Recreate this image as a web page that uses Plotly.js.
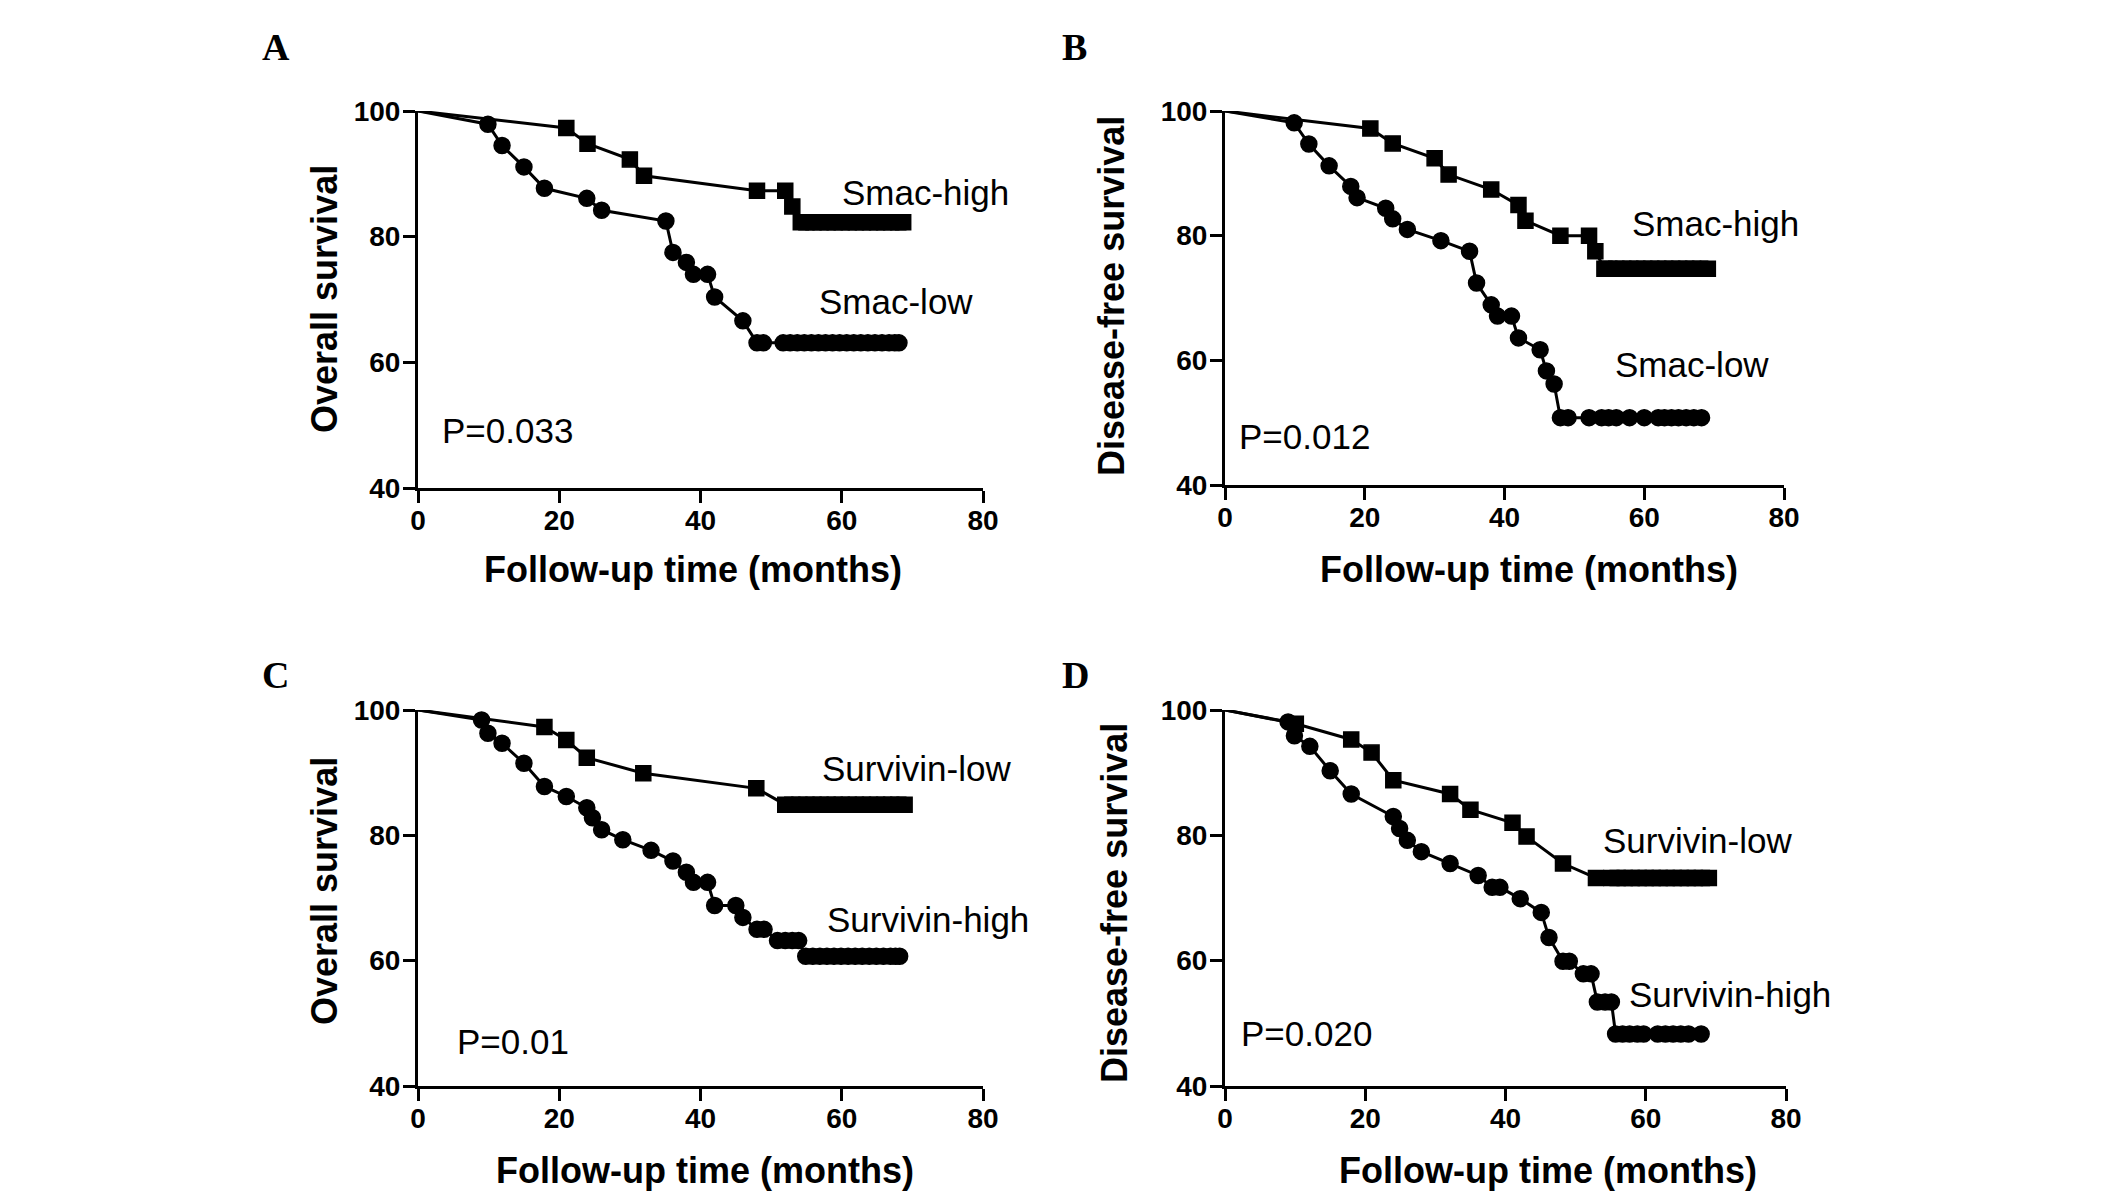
<!DOCTYPE html>
<html>
<head>
<meta charset="utf-8">
<script src="https://cdn.plot.ly/plotly-3.0.1.min.js"></script>
<style>html,body{margin:0;padding:0;background:#fff;}#chart{width:2126px;height:1196px;}</style>
</head>
<body>
<div id="chart"></div>
<script>
// ---- Data ----
const xTicks = [0, 20, 40, 60, 80];
const yTicks = [40, 60, 80, 100];

// Panel A: Overall survival by Smac
const A_high_t = [0, 21, 24, 30, 32, 48, 52, 53, 54.2, 55, 56, 57, 58, 59, 60, 61, 62, 63, 64, 65, 66, 67, 68, 68.7];
const A_high_s = [100, 97.3, 94.8, 92.3, 89.7, 87.3, 87.3, 84.8, 82.3, 82.3, 82.3, 82.3, 82.3, 82.3, 82.3, 82.3, 82.3, 82.3, 82.3, 82.3, 82.3, 82.3, 82.3, 82.3];
const A_low_t = [0, 9.9, 11.9, 15, 17.9, 23.9, 26, 35.1, 36.1, 38, 39, 41, 42, 46, 48, 48.9, 51.7, 52.7, 53.7, 54.7, 55.7, 56.7, 57.7, 58.7, 59.7, 60.7, 61.7, 62.7, 63.7, 64.7, 65.7, 66.7, 67.5, 68.1];
const A_low_s = [100, 97.9, 94.5, 91.1, 87.7, 86.1, 84.2, 82.5, 77.5, 75.9, 74.0, 74.0, 70.4, 66.6, 63.1, 63.1, 63.1, 63.1, 63.1, 63.1, 63.1, 63.1, 63.1, 63.1, 63.1, 63.1, 63.1, 63.1, 63.1, 63.1, 63.1, 63.1, 63.1, 63.1];

// Panel B: Disease-free survival by Smac
const B_high_t = [0, 20.8, 24, 30, 32, 38.1, 42, 43, 48, 52.1, 53, 54.3, 55, 56, 57, 58, 59, 60, 61, 62, 63, 64, 65, 66, 67, 68, 69.1];
const B_high_s = [100, 97.2, 94.8, 92.4, 89.8, 87.4, 84.9, 82.4, 80.0, 80.0, 77.5, 74.7, 74.7, 74.7, 74.7, 74.7, 74.7, 74.7, 74.7, 74.7, 74.7, 74.7, 74.7, 74.7, 74.7, 74.7, 74.7];
const B_low_t = [0, 9.9, 12, 14.9, 18, 18.9, 23, 24, 26.1, 30.9, 35, 36, 38.1, 39, 41, 42, 45.1, 46, 47.1, 48, 49.1, 52.1, 53.9, 54.9, 56, 57.9, 60, 62, 62.9, 63.9, 64.9, 66, 67.1, 68.2];
const B_low_s = [100, 98.1, 94.7, 91.2, 87.9, 86.1, 84.4, 82.7, 81.0, 79.2, 77.5, 72.4, 68.9, 67.1, 67.1, 63.6, 61.7, 58.3, 56.2, 50.8, 50.8, 50.8, 50.8, 50.8, 50.8, 50.8, 50.8, 50.8, 50.8, 50.8, 50.8, 50.8, 50.8, 50.8];

// Panel C: Overall survival by Survivin
const C_low_t = [0, 17.9, 21, 23.9, 31.9, 47.9, 52, 53, 54, 55, 56, 57, 58, 59, 60, 61, 62, 63, 64, 65, 66, 67, 68, 68.9];
const C_low_s = [100, 97.3, 95.2, 92.4, 89.9, 87.5, 84.9, 84.9, 84.9, 84.9, 84.9, 84.9, 84.9, 84.9, 84.9, 84.9, 84.9, 84.9, 84.9, 84.9, 84.9, 84.9, 84.9, 84.9];
const C_high_t = [0, 9, 9.9, 11.9, 15, 17.9, 21, 23.9, 24.7, 26, 29, 33, 36.1, 38, 39, 41, 42, 45, 46, 48, 49, 50.9, 52, 53, 53.9, 54.9, 55.9, 56.9, 57.9, 58.9, 59.9, 60.9, 61.9, 62.9, 63.9, 64.9, 65.9, 66.9, 67.6, 68.2];
const C_high_s = [100, 98.4, 96.3, 94.7, 91.5, 87.8, 86.2, 84.4, 82.8, 80.9, 79.3, 77.6, 75.9, 74.1, 72.5, 72.5, 68.8, 68.8, 66.9, 65.0, 65.0, 63.2, 63.2, 63.2, 63.2, 60.7, 60.7, 60.7, 60.7, 60.7, 60.7, 60.7, 60.7, 60.7, 60.7, 60.7, 60.7, 60.7, 60.7, 60.7];

// Panel D: Disease-free survival by Survivin
const D_low_t = [0, 10.1, 18, 20.9, 24, 32.1, 35, 41, 43, 48.2, 52.9, 55.1, 56, 57, 58, 59, 60, 61, 62, 63, 64, 65, 66, 67, 68, 69];
const D_low_s = [100, 97.8, 95.3, 93.2, 88.8, 86.6, 84.1, 82.0, 79.8, 75.5, 73.2, 73.2, 73.2, 73.2, 73.2, 73.2, 73.2, 73.2, 73.2, 73.2, 73.2, 73.2, 73.2, 73.2, 73.2, 73.2];
const D_high_t = [0, 9, 9.9, 12.1, 15, 18, 24, 24.9, 26, 28, 32.1, 36.1, 38.1, 39.2, 42.1, 45.1, 46.2, 48.2, 49.1, 51.1, 52.2, 53.1, 54.2, 55.1, 55.7, 56.7, 57.7, 58.8, 59.7, 61.7, 62.8, 63.9, 65, 66.1, 67.9];
const D_high_s = [100, 98.1, 95.9, 94.2, 90.3, 86.6, 83.0, 81.1, 79.2, 77.4, 75.5, 73.6, 71.7, 71.7, 69.9, 67.7, 63.7, 59.9, 59.9, 57.9, 57.9, 53.4, 53.4, 53.4, 48.3, 48.3, 48.3, 48.3, 48.3, 48.3, 48.3, 48.3, 48.3, 48.3, 48.3];

// ---- Build ----
const W = 2126, H = 1196;
const px = v => v / W;
const py = v => 1 - v / H;

function series(t, s, sym, ax) {
  return {
    x: t, y: s, type: 'scatter', mode: 'lines+markers',
    xaxis: 'x' + ax, yaxis: 'y' + ax,
    line: {color: '#000', width: 3},
    marker: {symbol: sym, color: '#000', opacity: 1,
      size: t.map((_, i) => i === 0 ? 0 : (sym === 'square' ? 15 : 16)),
      line: {color: '#000', width: t.map((_, i) => i === 0 ? 0 : 1.5)}},
    showlegend: false, hoverinfo: 'x+y', cliponaxis: false
  };
}

const traces = [
  series(A_high_t, A_high_s, 'square', ''),
  series(A_low_t, A_low_s, 'circle', ''),
  series(B_high_t, B_high_s, 'square', '2'),
  series(B_low_t, B_low_s, 'circle', '2'),
  series(C_low_t, C_low_s, 'square', '3'),
  series(C_high_t, C_high_s, 'circle', '3'),
  series(D_low_t, D_low_s, 'square', '4'),
  series(D_high_t, D_high_s, 'circle', '4')
];

const tickFont = {family: 'Liberation Sans, Arial, sans-serif', size: 28, color: '#000', weight: 'bold'};
function xax(d, anchor) {
  return {domain: d, anchor: anchor, range: [0, 80], tickvals: xTicks, ticktext: xTicks.map(String),
    ticks: 'outside', ticklen: 12, tickwidth: 3, tickcolor: '#000', showline: true, linewidth: 3,
    linecolor: '#000', showgrid: false, zeroline: false, tickfont: tickFont, fixedrange: true,
    ticklabelstandoff: -7};
}
function yax(d, anchor) {
  return {domain: d, anchor: anchor, range: [40, 100], tickvals: yTicks, ticktext: yTicks.map(String),
    ticks: 'outside', ticklen: 12, tickwidth: 3, tickcolor: '#000', showline: true, linewidth: 3,
    linecolor: '#000', showgrid: false, zeroline: false, tickfont: tickFont, fixedrange: true,
    ticklabelstandoff: -3};
}

const labelFont = {family: 'Liberation Sans, Arial, sans-serif', size: 35, color: '#000'};
const titleFont = {family: 'Liberation Sans, Arial, sans-serif', size: 36, color: '#000', weight: 'bold'};
const letterFont = {family: 'Liberation Serif, Times New Roman, serif', size: 38, color: '#000', weight: 'bold'};

function txt(text, x, y, font, xanchor, angle) {
  return {text: text, xref: 'paper', yref: 'paper', x: px(x), y: py(y), xanchor: xanchor || 'left',
    yanchor: 'middle', showarrow: false, font: font, textangle: angle || 0};
}

const annotations = [
  txt('A', 260, 47, letterFont), txt('B', 1060, 47, letterFont),
  txt('C', 260, 675, letterFont), txt('D', 1060, 675, letterFont),
  txt('Smac-high', 840, 192, labelFont), txt('Smac-low', 817, 301, labelFont), txt('P=0.033', 440, 431, labelFont),
  txt('Smac-high', 1630, 224, labelFont), txt('Smac-low', 1613, 364, labelFont), txt('P=0.012', 1237, 436, labelFont),
  txt('Survivin-low', 820, 768, labelFont), txt('Survivin-high', 825, 919, labelFont), txt('P=0.01', 455, 1041, labelFont),
  txt('Survivin-low', 1601, 840, labelFont), txt('Survivin-high', 1627, 995, labelFont), txt('P=0.020', 1239, 1033, labelFont),
  txt('Follow-up time (months)', 693, 569, titleFont, 'center'),
  txt('Follow-up time (months)', 1529, 569, titleFont, 'center'),
  txt('Follow-up time (months)', 705, 1170, titleFont, 'center'),
  txt('Follow-up time (months)', 1548, 1170, titleFont, 'center'),
  txt('Overall survival', 324, 299, titleFont, 'center', -90),
  txt('Disease-free survival', 1111, 296, titleFont, 'center', -90),
  txt('Overall survival', 324, 891, titleFont, 'center', -90),
  txt('Disease-free survival', 1114, 903, titleFont, 'center', -90)
];

const layout = {
  width: W, height: H, margin: {l: 0, r: 0, t: 0, b: 0},
  paper_bgcolor: '#fff', plot_bgcolor: '#fff', showlegend: false,
  xaxis: xax([px(418), px(983)], 'y'), yaxis: yax([py(488), py(111)], 'x'),
  xaxis2: xax([px(1225), px(1784)], 'y2'), yaxis2: yax([py(485), py(111)], 'x2'),
  xaxis3: xax([px(418), px(983)], 'y3'), yaxis3: yax([py(1086), py(710)], 'x3'),
  xaxis4: xax([px(1225), px(1786)], 'y4'), yaxis4: yax([py(1086), py(710)], 'x4'),
  annotations: annotations
};

Plotly.newPlot('chart', traces, layout, {displayModeBar: false, staticPlot: true});
</script>
</body>
</html>
